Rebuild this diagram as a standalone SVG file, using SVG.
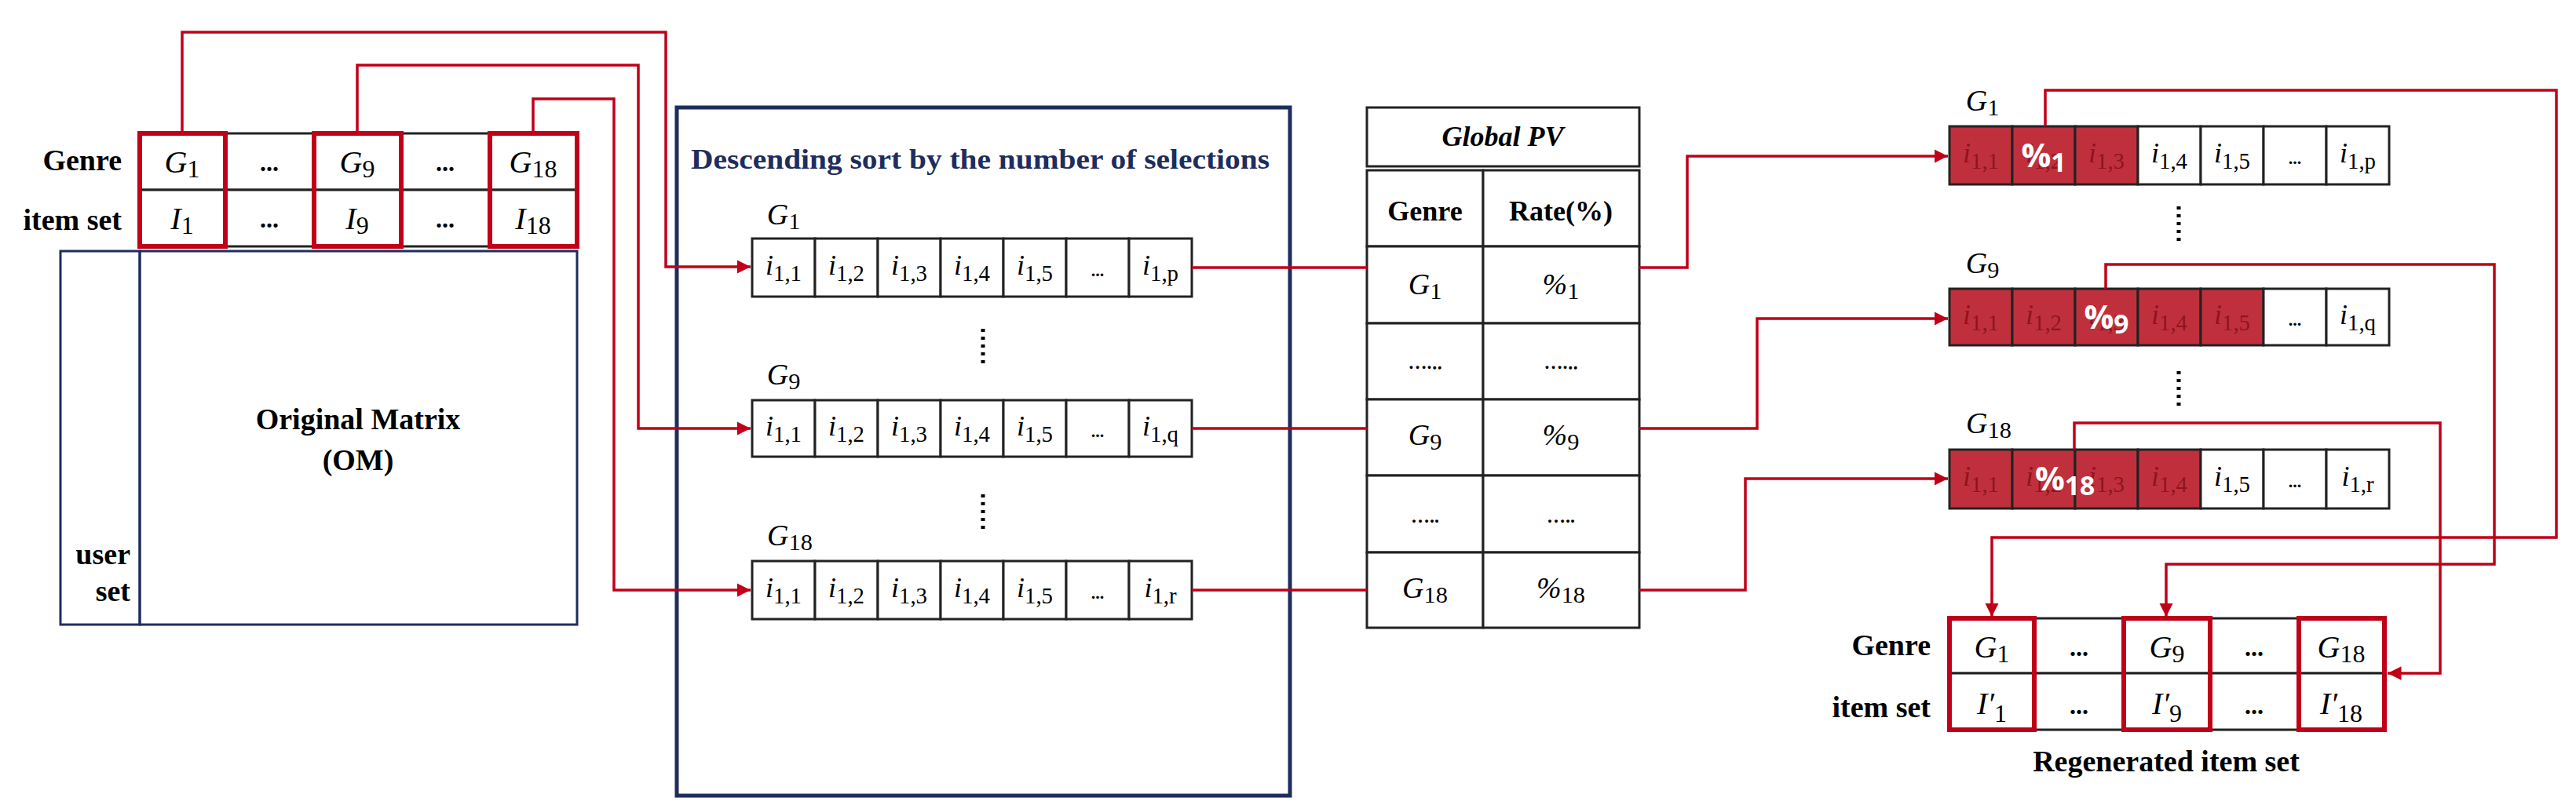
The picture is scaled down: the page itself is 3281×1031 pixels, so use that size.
<svg xmlns="http://www.w3.org/2000/svg" width="3281" height="1031" viewBox="0 0 3281 1031">
<style>
.b{font-family:"Liberation Serif",serif;font-weight:bold;fill:#000}
.m{font-family:"Liberation Serif",serif;font-style:italic;fill:#000;text-anchor:middle}
.s{font-style:normal;font-size:0.8em}
.cell{fill:#fff;stroke:#222;stroke-width:3}
.rc{fill:#c0303c;stroke:#222;stroke-width:3}
.rb{fill:none;stroke:#c00018;stroke-width:6}
.con{fill:none;stroke:#c00018;stroke-width:3.5}
.dim{fill:#8e1420}
.pc{font-family:"Open Sans",sans-serif;font-weight:bold;fill:#fff;text-anchor:middle;font-size:42px}
.nv{fill:none;stroke:#1f2d5c;stroke-width:3}
.dot{stroke:#000;stroke-width:5;stroke-dasharray:4 6}
</style>
<defs>
<marker id="ar" viewBox="0 0 10 10" refX="10" refY="5" markerWidth="5" markerHeight="5" orient="auto"><path d="M0,0L10,5L0,10z" fill="#c00018"/></marker>
</defs>

<g id="om">
<rect x="77" y="320" width="101" height="476" class="nv"/>
<rect x="178" y="320" width="557" height="476" class="nv" stroke-width="4"/>
<text class="b" x="456" y="547" font-size="38" text-anchor="middle">Original Matrix</text>
<text class="b" x="456" y="599" font-size="38" text-anchor="middle">(OM)</text>
<text class="b" x="166" y="719" font-size="38" text-anchor="end">user</text>
<text class="b" x="166" y="766" font-size="38" text-anchor="end">set</text>
</g>

<g id="top-table">
<text class="b" x="155" y="217" font-size="38" text-anchor="end">Genre</text>
<text class="b" x="155" y="293" font-size="38" text-anchor="end">item set</text>
<rect x="178" y="170" width="109" height="72" class="cell"/><rect x="287" y="170" width="113" height="72" class="cell"/><rect x="400" y="170" width="111" height="72" class="cell"/><rect x="511" y="170" width="113" height="72" class="cell"/><rect x="624" y="170" width="111" height="72" class="cell"/>
<rect x="178" y="242" width="109" height="72" class="cell"/><rect x="287" y="242" width="113" height="72" class="cell"/><rect x="400" y="242" width="111" height="72" class="cell"/><rect x="511" y="242" width="113" height="72" class="cell"/><rect x="624" y="242" width="111" height="72" class="cell"/>
<rect x="178" y="170" width="109" height="144" class="rb"/><rect x="400" y="170" width="111" height="144" class="rb"/><rect x="624" y="170" width="111" height="144" class="rb"/>
<g font-size="40">
<text class="m" x="232" y="220">G<tspan class="s" dy="6">1</tspan></text>
<text class="b" x="343" y="218" text-anchor="middle" font-size="32">...</text>
<text class="m" x="455" y="220">G<tspan class="s" dy="6">9</tspan></text>
<text class="b" x="567" y="218" text-anchor="middle" font-size="32">...</text>
<text class="m" x="679" y="220">G<tspan class="s" dy="6">18</tspan></text>
<text class="m" x="232" y="292">I<tspan class="s" dy="6">1</tspan></text>
<text class="b" x="343" y="290" text-anchor="middle" font-size="32">...</text>
<text class="m" x="455" y="292">I<tspan class="s" dy="6">9</tspan></text>
<text class="b" x="567" y="290" text-anchor="middle" font-size="32">...</text>
<text class="m" x="679" y="292">I<tspan class="s" dy="6">18</tspan></text>
</g>
</g>

<g id="sort-box">
<rect x="862" y="137" width="781" height="877" fill="none" stroke="#1f2d5c" stroke-width="5"/>
<text class="b" x="880" y="215" font-size="36" style="fill:#1f2d5c" textLength="737" lengthAdjust="spacingAndGlyphs">Descending sort by the number of selections</text>
<g font-size="38">
<text class="m" x="998" y="286">G<tspan class="s" dy="6">1</tspan></text>
<text class="m" x="998" y="490">G<tspan class="s" dy="6">9</tspan></text>
<text class="m" x="1006" y="695">G<tspan class="s" dy="6">18</tspan></text>
</g>
<line x1="1252" y1="419" x2="1252" y2="467" class="dot"/>
<line x1="1252" y1="630" x2="1252" y2="678" class="dot"/>
</g>

<g id="row-g1">
<rect x="958" y="304" width="80" height="74" class="cell"/><rect x="1038" y="304" width="80" height="74" class="cell"/><rect x="1118" y="304" width="80" height="74" class="cell"/><rect x="1198" y="304" width="80" height="74" class="cell"/><rect x="1278" y="304" width="80" height="74" class="cell"/><rect x="1358" y="304" width="80" height="74" class="cell"/><rect x="1438" y="304" width="80" height="74" class="cell"/>
<g font-size="36"><text class="m" x="998" y="350">i<tspan class="s" dy="8">1,1</tspan></text><text class="m" x="1078" y="350">i<tspan class="s" dy="8">1,2</tspan></text><text class="m" x="1158" y="350">i<tspan class="s" dy="8">1,3</tspan></text><text class="m" x="1238" y="350">i<tspan class="s" dy="8">1,4</tspan></text><text class="m" x="1318" y="350">i<tspan class="s" dy="8">1,5</tspan></text><text class="b" x="1398" y="352" text-anchor="middle" font-size="22">...</text><text class="m" x="1478" y="350">i<tspan class="s" dy="8">1,p</tspan></text></g>
</g>
<g id="row-g9">
<rect x="958" y="510" width="80" height="72" class="cell"/><rect x="1038" y="510" width="80" height="72" class="cell"/><rect x="1118" y="510" width="80" height="72" class="cell"/><rect x="1198" y="510" width="80" height="72" class="cell"/><rect x="1278" y="510" width="80" height="72" class="cell"/><rect x="1358" y="510" width="80" height="72" class="cell"/><rect x="1438" y="510" width="80" height="72" class="cell"/>
<g font-size="36"><text class="m" x="998" y="555">i<tspan class="s" dy="8">1,1</tspan></text><text class="m" x="1078" y="555">i<tspan class="s" dy="8">1,2</tspan></text><text class="m" x="1158" y="555">i<tspan class="s" dy="8">1,3</tspan></text><text class="m" x="1238" y="555">i<tspan class="s" dy="8">1,4</tspan></text><text class="m" x="1318" y="555">i<tspan class="s" dy="8">1,5</tspan></text><text class="b" x="1398" y="557" text-anchor="middle" font-size="22">...</text><text class="m" x="1478" y="555">i<tspan class="s" dy="8">1,q</tspan></text></g>
</g>
<g id="row-g18">
<rect x="958" y="715" width="80" height="74" class="cell"/><rect x="1038" y="715" width="80" height="74" class="cell"/><rect x="1118" y="715" width="80" height="74" class="cell"/><rect x="1198" y="715" width="80" height="74" class="cell"/><rect x="1278" y="715" width="80" height="74" class="cell"/><rect x="1358" y="715" width="80" height="74" class="cell"/><rect x="1438" y="715" width="80" height="74" class="cell"/>
<g font-size="36"><text class="m" x="998" y="761">i<tspan class="s" dy="8">1,1</tspan></text><text class="m" x="1078" y="761">i<tspan class="s" dy="8">1,2</tspan></text><text class="m" x="1158" y="761">i<tspan class="s" dy="8">1,3</tspan></text><text class="m" x="1238" y="761">i<tspan class="s" dy="8">1,4</tspan></text><text class="m" x="1318" y="761">i<tspan class="s" dy="8">1,5</tspan></text><text class="b" x="1398" y="763" text-anchor="middle" font-size="22">...</text><text class="m" x="1478" y="761">i<tspan class="s" dy="8">1,r</tspan></text></g>
</g>

<g id="global-pv">
<rect x="1741" y="137" width="347" height="75" class="cell"/>
<text class="b" x="1914" y="186" font-size="36" text-anchor="middle" font-style="italic">Global PV</text>
<rect x="1741" y="217" width="148" height="97" class="cell"/><rect x="1889" y="217" width="199" height="97" class="cell"/>
<rect x="1741" y="314" width="148" height="98" class="cell"/><rect x="1889" y="314" width="199" height="98" class="cell"/>
<rect x="1741" y="412" width="148" height="97" class="cell"/><rect x="1889" y="412" width="199" height="97" class="cell"/>
<rect x="1741" y="509" width="148" height="97" class="cell"/><rect x="1889" y="509" width="199" height="97" class="cell"/>
<rect x="1741" y="606" width="148" height="98" class="cell"/><rect x="1889" y="606" width="199" height="98" class="cell"/>
<rect x="1741" y="704" width="148" height="96" class="cell"/><rect x="1889" y="704" width="199" height="96" class="cell"/>
<text class="b" x="1815" y="281" font-size="36" text-anchor="middle">Genre</text>
<text class="b" x="1988" y="281" font-size="36" text-anchor="middle">Rate(%)</text>
<g font-size="38">
<text class="m" x="1815" y="375">G<tspan class="s" dy="6">1</tspan></text>
<text class="m" x="1988" y="375" font-style="normal">%<tspan class="s" dy="6">1</tspan></text>
<text class="b" x="1815" y="470" text-anchor="middle" font-size="24">….‥</text>
<text class="b" x="1988" y="470" text-anchor="middle" font-size="24">….‥</text>
<text class="m" x="1815" y="567">G<tspan class="s" dy="6">9</tspan></text>
<text class="m" x="1988" y="567" font-style="normal">%<tspan class="s" dy="6">9</tspan></text>
<text class="b" x="1815" y="666" text-anchor="middle" font-size="24">…..</text>
<text class="b" x="1988" y="666" text-anchor="middle" font-size="24">…..</text>
<text class="m" x="1815" y="762">G<tspan class="s" dy="6">18</tspan></text>
<text class="m" x="1988" y="762" font-style="normal">%<tspan class="s" dy="6">18</tspan></text>
</g>
</g>

<g id="right-rows">
<g font-size="38">
<text class="m" x="2525" y="141">G<tspan class="s" dy="6">1</tspan></text>
<text class="m" x="2525" y="348">G<tspan class="s" dy="6">9</tspan></text>
<text class="m" x="2533" y="552">G<tspan class="s" dy="6">18</tspan></text>
</g>
<line x1="2775" y1="263" x2="2775" y2="311" class="dot"/>
<line x1="2775" y1="473" x2="2775" y2="521" class="dot"/>
</g>
<g id="row-r1">
<rect x="2483" y="161" width="80" height="74" class="rc"/><rect x="2563" y="161" width="80" height="74" class="rc"/><rect x="2643" y="161" width="80" height="74" class="rc"/><rect x="2723" y="161" width="80" height="74" class="cell"/><rect x="2803" y="161" width="80" height="74" class="cell"/><rect x="2883" y="161" width="80" height="74" class="cell"/><rect x="2963" y="161" width="80" height="74" class="cell"/>
<g font-size="36"><text class="m dim" x="2523" y="207">i<tspan class="s" dy="8">1,1</tspan></text><text class="m dim" x="2603" y="207">i<tspan class="s" dy="8">1,2</tspan></text><text class="m dim" x="2683" y="207">i<tspan class="s" dy="8">1,3</tspan></text><text class="m" x="2763" y="207">i<tspan class="s" dy="8">1,4</tspan></text><text class="m" x="2843" y="207">i<tspan class="s" dy="8">1,5</tspan></text><text class="b" x="2923" y="209" text-anchor="middle" font-size="22">...</text><text class="m" x="3003" y="207">i<tspan class="s" dy="8">1,p</tspan></text></g>
<text class="pc" x="2603" y="213">%<tspan class="s" dy="6">1</tspan></text>
</g>
<g id="row-r9">
<rect x="2483" y="368" width="80" height="72" class="rc"/><rect x="2563" y="368" width="80" height="72" class="rc"/><rect x="2643" y="368" width="80" height="72" class="rc"/><rect x="2723" y="368" width="80" height="72" class="rc"/><rect x="2803" y="368" width="80" height="72" class="rc"/><rect x="2883" y="368" width="80" height="72" class="cell"/><rect x="2963" y="368" width="80" height="72" class="cell"/>
<g font-size="36"><text class="m dim" x="2523" y="413">i<tspan class="s" dy="8">1,1</tspan></text><text class="m dim" x="2603" y="413">i<tspan class="s" dy="8">1,2</tspan></text><text class="m dim" x="2683" y="413">i<tspan class="s" dy="8">1,3</tspan></text><text class="m dim" x="2763" y="413">i<tspan class="s" dy="8">1,4</tspan></text><text class="m dim" x="2843" y="413">i<tspan class="s" dy="8">1,5</tspan></text><text class="b" x="2923" y="415" text-anchor="middle" font-size="22">...</text><text class="m" x="3003" y="413">i<tspan class="s" dy="8">1,q</tspan></text></g>
<text class="pc" x="2683" y="419">%<tspan class="s" dy="6">9</tspan></text>
</g>
<g id="row-r18">
<rect x="2483" y="573" width="80" height="75" class="rc"/><rect x="2563" y="573" width="80" height="75" class="rc"/><rect x="2643" y="573" width="80" height="75" class="rc"/><rect x="2723" y="573" width="80" height="75" class="rc"/><rect x="2803" y="573" width="80" height="75" class="cell"/><rect x="2883" y="573" width="80" height="75" class="cell"/><rect x="2963" y="573" width="80" height="75" class="cell"/>
<g font-size="36"><text class="m dim" x="2523" y="619">i<tspan class="s" dy="8">1,1</tspan></text><text class="m dim" x="2603" y="619">i<tspan class="s" dy="8">1,2</tspan></text><text class="m dim" x="2683" y="619">i<tspan class="s" dy="8">1,3</tspan></text><text class="m dim" x="2763" y="619">i<tspan class="s" dy="8">1,4</tspan></text><text class="m" x="2843" y="619">i<tspan class="s" dy="8">1,5</tspan></text><text class="b" x="2923" y="621" text-anchor="middle" font-size="22">...</text><text class="m" x="3003" y="619">i<tspan class="s" dy="8">1,r</tspan></text></g>
<text class="pc" x="2630" y="625">%<tspan class="s" dy="6">18</tspan></text>
</g>

<g id="regen-table">
<text class="b" x="2459" y="835" font-size="38" text-anchor="end">Genre</text>
<text class="b" x="2459" y="914" font-size="38" text-anchor="end">item set</text>
<rect x="2483" y="788" width="108" height="70" class="cell"/><rect x="2591" y="788" width="114" height="70" class="cell"/><rect x="2705" y="788" width="110" height="70" class="cell"/><rect x="2815" y="788" width="113" height="70" class="cell"/><rect x="2928" y="788" width="109" height="70" class="cell"/>
<rect x="2483" y="858" width="108" height="72" class="cell"/><rect x="2591" y="858" width="114" height="72" class="cell"/><rect x="2705" y="858" width="110" height="72" class="cell"/><rect x="2815" y="858" width="113" height="72" class="cell"/><rect x="2928" y="858" width="109" height="72" class="cell"/>
<rect x="2483" y="788" width="108" height="142" class="rb"/><rect x="2705" y="788" width="110" height="142" class="rb"/><rect x="2928" y="788" width="109" height="142" class="rb"/>
<g font-size="40">
<text class="m" x="2537" y="838">G<tspan class="s" dy="6">1</tspan></text>
<text class="b" x="2648" y="836" text-anchor="middle" font-size="32">...</text>
<text class="m" x="2760" y="838">G<tspan class="s" dy="6">9</tspan></text>
<text class="b" x="2871" y="836" text-anchor="middle" font-size="32">...</text>
<text class="m" x="2982" y="838">G<tspan class="s" dy="6">18</tspan></text>
<text class="m" x="2537" y="910">I′<tspan class="s" dy="10">1</tspan></text>
<text class="b" x="2648" y="910" text-anchor="middle" font-size="32">...</text>
<text class="m" x="2760" y="910">I′<tspan class="s" dy="10">9</tspan></text>
<text class="b" x="2871" y="910" text-anchor="middle" font-size="32">...</text>
<text class="m" x="2982" y="910">I′<tspan class="s" dy="10">18</tspan></text>
</g>
<text class="b" x="2759" y="983" font-size="38" text-anchor="middle">Regenerated item set</text>
</g>

<g id="connectors">
<path class="con" d="M232,170V41H848V340H956" marker-end="url(#ar)"/>
<path class="con" d="M455,170V83H813V546H956" marker-end="url(#ar)"/>
<path class="con" d="M679,170V126H782V752H956" marker-end="url(#ar)"/>
<path class="con" d="M1518,341H1741"/>
<path class="con" d="M1518,546H1741"/>
<path class="con" d="M1518,752H1741"/>
<path class="con" d="M2088,341H2149V199H2481" marker-end="url(#ar)"/>
<path class="con" d="M2088,546H2238V406H2481" marker-end="url(#ar)"/>
<path class="con" d="M2088,752H2223V610H2481" marker-end="url(#ar)"/>
<path class="con" d="M2605,161V115H3256V685H2537V786" marker-end="url(#ar)"/>
<path class="con" d="M2682,368V337H3177V719H2759V786" marker-end="url(#ar)"/>
<path class="con" d="M2642,573V539H3108V858H3041" marker-end="url(#ar)"/>
</g>
</svg>
